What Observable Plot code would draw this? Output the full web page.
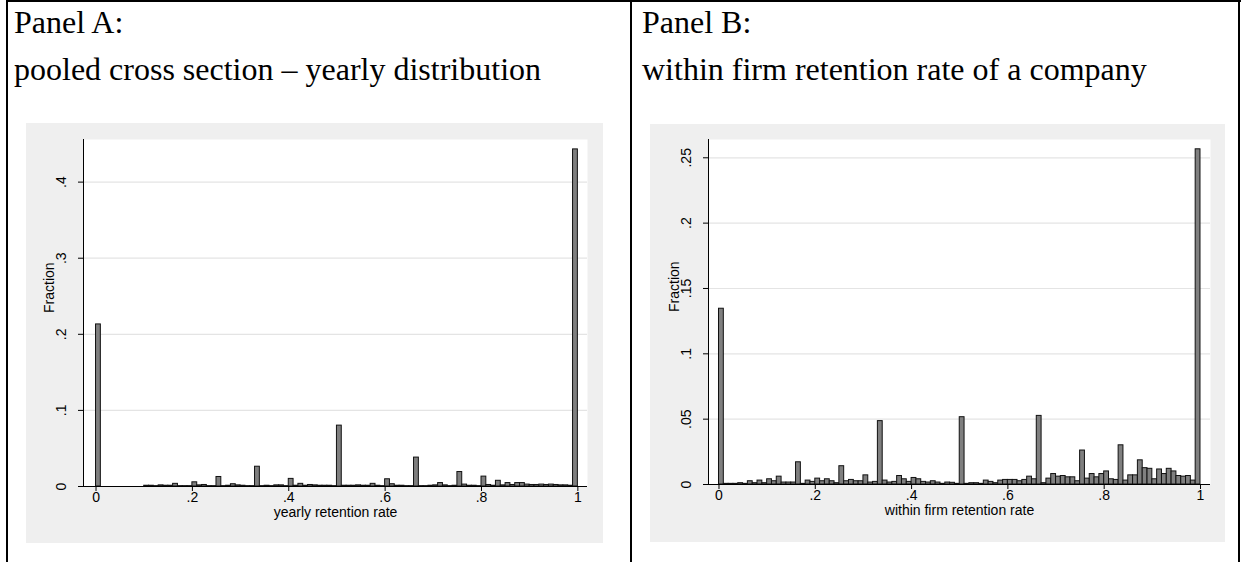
<!DOCTYPE html>
<html>
<head>
<meta charset="utf-8">
<script src="https://cdn.jsdelivr.net/npm/d3@7"></script>
<script src="https://cdn.jsdelivr.net/npm/@observablehq/plot@0.6"></script>
<style>
  html, body { margin: 0; padding: 0; background: #ffffff; }
  #root { position: relative; width: 1241px; height: 562px; overflow: hidden; background: #fff; }
  .rule { position: absolute; background: #000; }
  .head { position: absolute; font-family: "Liberation Serif", "Times New Roman", serif; font-size: 32px; line-height: 1; color: #000; white-space: nowrap; }
  .panel { position: absolute; }
</style>
</head>
<body>
<div id="root">
  <div class="rule" style="left:6px;top:0;width:1235px;height:2px;"></div>
  <div class="rule" style="left:6px;top:0;width:2px;height:562px;"></div>
  <div class="rule" style="left:630px;top:0;width:2px;height:562px;"></div>
  <div class="rule" style="left:1238px;top:0;width:2px;height:562px;"></div>
  <div class="head" id="tA" style="left:14px;top:6px;"></div>
  <div class="head" id="sA" style="left:14px;top:53px;"></div>
  <div class="head" id="tB" style="left:642px;top:6px;"></div>
  <div class="head" id="sB" style="left:642px;top:53px;"></div>
  <div class="panel" id="pA" style="left:26px;top:123px;"></div>
  <div class="panel" id="pB" style="left:650px;top:124px;"></div>
</div>
<script>
// ---- data ----
const panelTitles = ["Panel A:", "Panel B:"];
const panelSubtitles = ["pooled cross section – yearly distribution", "within firm retention rate of a company"];
const xLabels = ["yearly retention rate", "within firm retention rate"];
const yLabel = "Fraction";

// histogram bins: start 0, width 0.01 (100 bins)
const binStart = 0;
const binWidth = 0.01;

// Panel A: fraction per bin (yearly retention rate)
const fractionA = [
  0.213, 0, 0, 0, 0, 0, 0, 0, 0, 0,
  0.001, 0.001, 0.0005, 0.0015, 0.001, 0.001, 0.0035, 0.0005, 0.0005, 0.0005,
  0.0055, 0.0015, 0.002, 0.0005, 0.0005, 0.0125, 0.0005, 0.001, 0.003, 0.0015,
  0.001, 0.0005, 0.0005, 0.026, 0.0005, 0.001, 0.0005, 0.0015, 0.0015, 0.0005,
  0.010, 0.001, 0.0035, 0.001, 0.002, 0.0015, 0.001, 0.001, 0.001, 0.0005,
  0.080, 0.001, 0.001, 0.001, 0.0015, 0.001, 0.001, 0.0035, 0.001, 0.0005,
  0.0095, 0.003, 0.001, 0.001, 0.0005, 0.0005, 0.038, 0.0005, 0.0005, 0.001,
  0.0015, 0.0045, 0.0015, 0.0005, 0.001, 0.019, 0.0025, 0.001, 0.001, 0.0005,
  0.013, 0.002, 0.001, 0.0075, 0.0015, 0.0045, 0.002, 0.0045, 0.0045, 0.0025,
  0.002, 0.002, 0.0025, 0.002, 0.0025, 0.002, 0.0015, 0.0015, 0.001, 0.443
];

// Panel B: fraction per bin (within firm retention rate)
const fractionB = [
  0.1345, 0.0005, 0.0005, 0.0005, 0.001, 0.0005, 0.0025, 0.001, 0.003, 0.001,
  0.004, 0.0025, 0.006, 0.0015, 0.0015, 0.0015, 0.017, 0.0005, 0.003, 0.002,
  0.0045, 0.0025, 0.004, 0.0025, 0.001, 0.014, 0.0025, 0.0035, 0.0025, 0.0025,
  0.007, 0.0015, 0.002, 0.0485, 0.003, 0.0015, 0.002, 0.0065, 0.004, 0.002,
  0.005, 0.004, 0.002, 0.0015, 0.0025, 0.0015, 0.0005, 0.0015, 0.0013, 0.0005,
  0.0515, 0.0005, 0.001, 0.001, 0.0005, 0.003, 0.002, 0.001, 0.003, 0.0035,
  0.0035, 0.0035, 0.0025, 0.0035, 0.006, 0.004, 0.0525, 0.001, 0.0045, 0.008,
  0.006, 0.0065, 0.0055, 0.0055, 0.0025, 0.026, 0.0045, 0.008, 0.0055, 0.008,
  0.010, 0.004, 0.0035, 0.030, 0.003, 0.007, 0.007, 0.0185, 0.0125, 0.012,
  0.004, 0.0115, 0.008, 0.012, 0.010, 0.0065, 0.006, 0.0065, 0.003, 0.2565
];

const xTicks = [0, 0.2, 0.4, 0.6, 0.8, 1];
const xTickLabels = ["0", ".2", ".4", ".6", ".8", "1"];
const yTicksA = [0, 0.1, 0.2, 0.3, 0.4];
const yTickLabelsA = ["0", ".1", ".2", ".3", ".4"];
const yTicksB = [0, 0.05, 0.1, 0.15, 0.2, 0.25];
const yTickLabelsB = ["0", ".05", ".1", ".15", ".2", ".25"];

// ---- headings ----
document.getElementById("tA").textContent = panelTitles[0];
document.getElementById("sA").textContent = panelSubtitles[0];
document.getElementById("tB").textContent = panelTitles[1];
document.getElementById("sB").textContent = panelSubtitles[1];

function histPanel({values, xDomain, yDomain, yTicks, yTickLabels, xLabel, width, height, margin}) {
  const bins = values.map((v, i) => ({
    x1: binStart + i * binWidth,
    x2: binStart + (i + 1) * binWidth,
    y: v
  }));
  const fmtX = d => xTickLabels[xTicks.findIndex(t => Math.abs(t - d) < 1e-9)];
  const fmtY = d => yTickLabels[yTicks.findIndex(t => Math.abs(t - d) < 1e-9)];
  return Plot.plot({
    width, height,
    marginLeft: margin[3], marginRight: margin[1], marginTop: margin[0], marginBottom: margin[2],
    style: {background: "#efefef", color: "#000", fontFamily: "'Liberation Sans', Arial, Helvetica, sans-serif", fontSize: "14px", overflow: "visible"},
    x: {domain: xDomain},
    y: {domain: yDomain},
    marks: [
      Plot.frame({fill: "#ffffff", stroke: null}),
      Plot.gridY(yTicks.filter(t => t > 0), {stroke: "#e4e4e4", strokeOpacity: 1, strokeWidth: 1.2}),
      Plot.rect(bins, {x1: "x1", x2: "x2", y1: 0, y2: "y", fill: "#7f7f7f", stroke: "#111", strokeWidth: 1}),
      Plot.ruleX([xDomain[0]], {stroke: "#000", strokeWidth: 1}),
      Plot.ruleY([0], {stroke: "#000", strokeWidth: 1}),
      Plot.axisY(yTicks, {tickFormat: fmtY, tickRotate: -90, tickSize: 5, tickPadding: 13, label: null, stroke: "#000", fontSize: 14}),
      Plot.axisX(xTicks, {tickFormat: fmtX, tickSize: 5, tickPadding: 1, label: null, stroke: "#000", fontSize: 14}),
      Plot.text([yLabel], {frameAnchor: "left", rotate: -90, dx: -34, fontSize: 14, fill: "#000"}),
      Plot.text([xLabel], {frameAnchor: "bottom", dy: 30, fontSize: 14, fill: "#000"})
    ]
  });
}

document.getElementById("pA").appendChild(histPanel({
  values: fractionA,
  xDomain: [-0.026, 1.020],
  yDomain: [0, 0.456],
  yTicks: yTicksA, yTickLabels: yTickLabelsA,
  xLabel: xLabels[0],
  width: 577, height: 420,
  margin: [16, 16, 57, 57]
}));

document.getElementById("pB").appendChild(histPanel({
  values: fractionB,
  xDomain: [-0.0218, 1.0208],
  yDomain: [0, 0.264],
  yTicks: yTicksB, yTickLabels: yTickLabelsB,
  xLabel: xLabels[1],
  width: 575, height: 418,
  margin: [15, 15, 58, 58]
}));
</script>
</body>
</html>
